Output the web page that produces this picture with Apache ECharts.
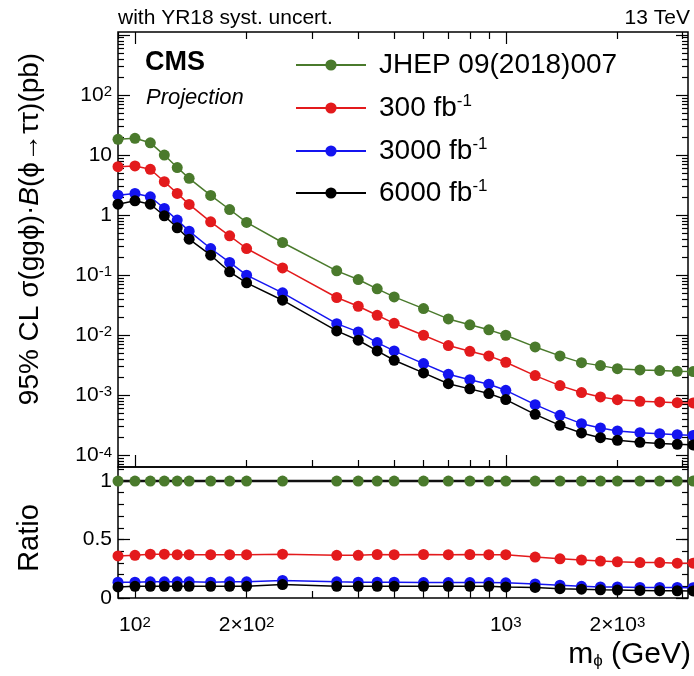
<!DOCTYPE html>
<html><head><meta charset="utf-8">
<script src="https://cdn.jsdelivr.net/npm/echarts@6/dist/echarts.min.js"></script>
<style>html,body{margin:0;padding:0;background:#fff}#c{width:694px;height:676px}</style>
</head><body><div id="c"></div>
<script>
// ---- data ----
const masses = [90,100,110,120,130,140,160,180,200,250,350,400,450,500,600,700,800,900,1000,1200,1400,1600,1800,2000,2300,2600,2900,3200];
const jhep = [18.3,19.0,16.0,10.0,6.2,4.1,2.13,1.24,0.755,0.35,0.118,0.0847,0.0592,0.0435,0.0278,0.0187,0.0149,0.0123,0.0100,0.00639,0.00453,0.0035,0.00312,0.00278,0.00264,0.00258,0.00251,0.00248];
const lumi300 = [6.4,6.6,5.8,3.6,2.30,1.51,0.774,0.453,0.278,0.132,0.0425,0.0304,0.0215,0.0158,0.0100,0.00673,0.00541,0.00453,0.00355,0.00213,0.00145,0.00111,0.000938,0.000847,0.000794,0.000774,0.000755,0.000745];
const lumi3000 = [2.15,2.30,2.02,1.29,0.826,0.541,0.278,0.163,0.100,0.0508,0.0156,0.01136,0.00755,0.00548,0.00337,0.00224,0.00182,0.00153,0.00121,0.000699,0.000464,0.000337,0.000286,0.000255,0.000239,0.00023,0.000221,0.000215];
const lumi6000 = [1.52,1.73,1.52,0.975,0.615,0.398,0.215,0.114,0.0745,0.0383,0.0118,0.00826,0.00548,0.00383,0.00236,0.00156,0.00128,0.00107,0.000848,0.000482,0.000316,0.000236,0.000197,0.000178,0.000165,0.000158,0.000153,0.000149];
const ratioJhep = [1,1,1,1,1,1,1,1,1,1,1,1,1,1,1,1,1,1,1,1,1,1,1,1,1,1,1,1];
const ratio300 = [0.36,0.365,0.375,0.375,0.37,0.37,0.37,0.37,0.37,0.375,0.365,0.365,0.372,0.37,0.372,0.37,0.372,0.37,0.37,0.35,0.335,0.325,0.316,0.31,0.303,0.303,0.298,0.298];
const ratio3000 = [0.135,0.135,0.138,0.138,0.138,0.138,0.135,0.138,0.138,0.15,0.138,0.135,0.135,0.135,0.132,0.132,0.132,0.132,0.13,0.12,0.11,0.1,0.095,0.095,0.09,0.09,0.09,0.088];
const ratio6000 = [0.095,0.1,0.1,0.1,0.1,0.1,0.1,0.1,0.1,0.115,0.1,0.1,0.1,0.1,0.1,0.1,0.1,0.1,0.095,0.09,0.08,0.075,0.07,0.068,0.065,0.063,0.062,0.06];
const seriesNames = ['JHEP 09(2018)007','300 fb-1','3000 fb-1','6000 fb-1'];
const yTickLabels = [1e-4,1e-3,1e-2,1e-1,1,10,100];
const xTickLabels = [100,200,1000,2000];
const ratioTickLabels = [0,0.5,1];

// ---- style / layout ----
const FONT = '"Liberation Sans", Arial, Helvetica, sans-serif';
const colors = ['#4a7a2c','#e31a1c','#1414f0','#000000'];
const X_MIN = 90, X_MAX = 3100, Y_MIN = 6.4e-5, Y_MAX = 1120, R_MIN = 0, R_MAX = 1.12;
const legendCenters = [65,108,151,193];

function logMajor(lo, hi){const o=[];for(let e=-6;e<=4;e++){const v=Math.pow(10,e);if(v>=lo&&v<=hi)o.push(v);}return o;}
function logMinor(lo, hi){const o=[];for(let e=-6;e<=4;e++)for(let k=2;k<=9;k++){const v=k*Math.pow(10,e);if(v>=lo&&v<=hi)o.push(v);}return o;}
function linTicks(lo, hi, step){const o=[];for(let v=lo;v<=hi+1e-9;v+=step)o.push(Math.round(v*1000)/1000);return o;}

const supRich = {sup:{fontSize:15,fontFamily:FONT,color:'#000',verticalAlign:'top',lineHeight:12}};
function powLabel(v){
  const e = Math.round(Math.log10(v));
  if (e === 0) return '1';
  if (e === 1) return '10';
  return '10{sup|' + e + '}';
}
function xLabel(v){
  const e = Math.floor(Math.log10(v) + 1e-9);
  const m = Math.round(v / Math.pow(10, e));
  return (m === 1 ? '' : m + '×') + '10{sup|' + e + '}';
}

function baseAxis(o){
  return Object.assign({
    axisLine:{show:false}, splitLine:{show:false}, axisLabel:{show:false},
    axisPointer:{show:false}, offset:0
  }, o);
}
function ticks(vals, len){
  return {show:true, inside:true, length:len, lineStyle:{color:'#000', width:1.2}, customValues: vals};
}

const xMaj = logMajor(X_MIN, X_MAX), xMin = logMinor(X_MIN, X_MAX);
const yMaj = logMajor(Y_MIN, Y_MAX), yMin = logMinor(Y_MIN, Y_MAX);
const rMaj = [0, 0.5, 1], rMin = linTicks(0, 1.1, 0.1);

const xLog = {type:'log', logBase:10, min:X_MIN, max:X_MAX};
const xAxis = [
  baseAxis(Object.assign({gridIndex:0, position:'bottom', axisTick:ticks(xMaj, 12)}, xLog)),
  baseAxis(Object.assign({gridIndex:0, position:'bottom', axisTick:ticks(xMin, 7)}, xLog)),
  baseAxis(Object.assign({gridIndex:0, position:'top', axisTick:ticks(xMaj, 12)}, xLog)),
  baseAxis(Object.assign({gridIndex:0, position:'top', axisTick:ticks(xMin, 7)}, xLog)),
  baseAxis(Object.assign({gridIndex:1, position:'bottom', axisTick:ticks(xMaj, 12),
    axisLabel:{show:true, customValues:xTickLabels, formatter:xLabel, fontSize:21, fontFamily:FONT, color:'#000', margin:17, rich:supRich}}, xLog)),
  baseAxis(Object.assign({gridIndex:1, position:'bottom', axisTick:ticks(xMin, 7)}, xLog))
];
const yLog = {type:'log', logBase:10, min:Y_MIN, max:Y_MAX};
const yLin = {type:'value', min:R_MIN, max:R_MAX};
const yAxis = [
  baseAxis(Object.assign({gridIndex:0, position:'left', axisTick:ticks(yMaj, 12),
    axisLabel:{show:true, customValues:yTickLabels, formatter:powLabel, fontSize:21, fontFamily:FONT, color:'#000', margin:6, rich:supRich}}, yLog)),
  baseAxis(Object.assign({gridIndex:0, position:'left', axisTick:ticks(yMin, 6)}, yLog)),
  baseAxis(Object.assign({gridIndex:0, position:'right', axisTick:ticks(yMaj, 12)}, yLog)),
  baseAxis(Object.assign({gridIndex:0, position:'right', axisTick:ticks(yMin, 6)}, yLog)),
  baseAxis(Object.assign({gridIndex:1, position:'left', axisTick:ticks(rMaj, 12),
    axisLabel:{show:true, customValues:ratioTickLabels, formatter:v=>String(v), fontSize:21, fontFamily:FONT, color:'#000', margin:6}}, yLin)),
  baseAxis(Object.assign({gridIndex:1, position:'left', axisTick:ticks(rMin, 6)}, yLin)),
  baseAxis(Object.assign({gridIndex:1, position:'right', axisTick:ticks(rMaj, 12)}, yLin)),
  baseAxis(Object.assign({gridIndex:1, position:'right', axisTick:ticks(rMin, 6)}, yLin))
];

const topData = [jhep, lumi300, lumi3000, lumi6000];
const ratioData = [ratioJhep, ratio300, ratio3000, ratio6000];
const series = [];
topData.forEach((arr, i) => series.push({
  name: seriesNames[i], type:'line', xAxisIndex:0, yAxisIndex:0,
  data: masses.map((m, j) => [m, arr[j]]), symbol:'circle', symbolSize:11, clip:false,
  itemStyle:{color:colors[i]}, lineStyle:{color:colors[i], width:1.5}, z:2+i
}));
ratioData.forEach((arr, i) => series.push({
  name: 'ratio ' + seriesNames[i], type:'line', xAxisIndex:4, yAxisIndex:4,
  data: masses.map((m, j) => [m, arr[j]]), symbol:'circle', symbolSize:11, clip:false,
  itemStyle:{color:colors[i]}, lineStyle:{color: i === 0 ? '#111' : colors[i], width: i === 0 ? 2.5 : 1.5}, z:2+i
}));

const legend = seriesNames.map((n, i) => ({
  data:[n], orient:'horizontal', left:295, top:legendCenters[i]-15, padding:0,
  itemWidth:70, itemHeight:14, itemGap:0, selectedMode:false,
  formatter: name => name.replace(/-1$/, '{sup|-1}'),
  textStyle:{fontSize:28, fontFamily:FONT, color:'#000', lineHeight:30, padding:[0,0,0,8],
    rich:{sup:{fontSize:17, fontFamily:FONT, color:'#000', verticalAlign:'top', lineHeight:14}}}
}));

const graphic = [
  {type:'text', x:118, y:18, style:{text:'with YR18 syst. uncert.', fontSize:21, fontFamily:FONT, fill:'#000', align:'left', verticalAlign:'middle'}},
  {type:'text', x:690, y:18, style:{text:'13 TeV', fontSize:21, fontFamily:FONT, fill:'#000', align:'right', verticalAlign:'middle'}},
  {type:'text', x:145, y:63, style:{text:'CMS', fontSize:27, fontWeight:'bold', fontFamily:FONT, fill:'#000', align:'left', verticalAlign:'middle'}},
  {type:'text', x:146, y:98, style:{text:'Projection', fontSize:22, fontStyle:'italic', fontFamily:FONT, fill:'#000', align:'left', verticalAlign:'middle'}},
  {type:'text', x:30, y:229, rotation:Math.PI/2, style:{text:'95% CL σ(ggϕ)·{i|B}(ϕ→ττ)(pb)', fontSize:28, fontFamily:FONT, fill:'#000', align:'center', verticalAlign:'middle',
    rich:{i:{fontStyle:'italic', fontSize:28, fontFamily:FONT, fill:'#000'}}}},
  {type:'text', x:30, y:538, rotation:Math.PI/2, style:{text:'Ratio', fontSize:29, fontFamily:FONT, fill:'#000', align:'center', verticalAlign:'middle'}},
  {type:'text', x:691, y:655, style:{text:'m{sub|ϕ} (GeV)', fontSize:30, fontFamily:FONT, fill:'#000', align:'right', verticalAlign:'middle',
    rich:{sub:{fontSize:17, fontFamily:FONT, fill:'#000', verticalAlign:'bottom', lineHeight:14}}}}
];

const chart = echarts.init(document.getElementById('c'), null, {renderer:'canvas'});
chart.setOption({
  animation:false,
  backgroundColor:'#fff',
  grid:[
    {left:118, top:32, width:570, height:435, show:true, borderColor:'#000', borderWidth:1.5, backgroundColor:'transparent', outerBoundsMode:'none', containLabel:false},
    {left:118, top:467, width:570, height:131, show:true, borderColor:'#000', borderWidth:1.5, backgroundColor:'transparent', outerBoundsMode:'none', containLabel:false}
  ],
  xAxis, yAxis, legend, graphic, series
});
</script></body></html>
